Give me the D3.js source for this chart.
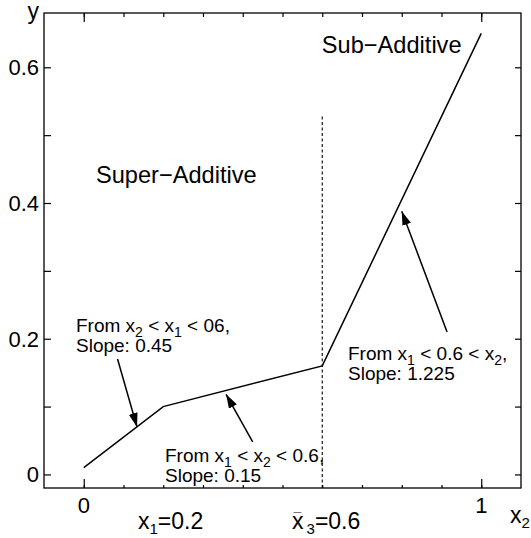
<!DOCTYPE html>
<html>
<head>
<meta charset="utf-8">
<script src="https://d3js.org/d3.v7.min.js"></script>
<style>
  body { margin: 0; background: #fff; }
  svg { display: block; font-family: "Liberation Sans", Arial, Helvetica, sans-serif; }
</style>
</head>
<body>
<svg width="531" height="538"></svg>
<script>
// piecewise curve
var curveX = [0, 0.2, 0.6, 1];
var curveY = [0.01, 0.1, 0.16, 0.65];

// dashed marker at x3bar
var dashX = 0.6;
var dashTop = 0.53;

// ticks
var xMinorTicks = [0, 0.1, 0.2, 0.3, 0.4, 0.5, 0.6, 0.7, 0.8, 0.9, 1];
var xMajorTicks = [0, 1];
var xTickLabels = ["0", "1"];
var yTicks = [0, 0.1, 0.2, 0.3, 0.4, 0.5, 0.6];
var yLabelTicks = [0, 0.2, 0.4, 0.6];
var yTickLabels = ["0", "0.2", "0.4", "0.6"];

// arrows: tail and head points in data units
var arrowFrom = [[0.085, 0.17], [0.425, 0.048], [0.914, 0.21]];
var arrowTo   = [[0.134, 0.07], [0.358, 0.118], [0.80, 0.388]];

// annotation anchors (data units) and their text pieces
var noteAt = [[-0.0195, 0.21], [0.2044, 0.0183], [0.6648, 0.1686]];
var noteLine1 = [
  [["From x", 0], ["2", 1], [" < x", 0], ["1", 1], [" < 06,", 0]],
  [["From x", 0], ["1", 1], [" < x", 0], ["2", 1], [" < 0.6,", 0]],
  [["From x", 0], ["1", 1], [" < 0.6 < x", 0], ["2", 1], [",", 0]]
];
var noteLine2 = ["Slope: 0.45", "Slope: 0.15", "Slope: 1.225"];

// region labels
var regionText = ["Super\u2212Additive", "Sub\u2212Additive"];
var regionAt = [[0.0308, 0.4295], [0.599, 0.621]];

// labels under the axis
var x1LabelAt = 0.1365;
var x3LabelAt = 0.524;

var svg = d3.select("svg");
var margin = {top: 13, right: 10, bottom: 50, left: 44};
var width = +svg.attr("width") - margin.left - margin.right;
var height = +svg.attr("height") - margin.top - margin.bottom;

var g = svg.append("g").attr("transform", "translate(" + margin.left + "," + margin.top + ")");

var x = d3.scaleLinear().domain([-0.1, 1.1]).range([0, width]);
var y = d3.scaleLinear().domain([-0.02, 0.68]).range([height, 0]);

// frame
g.append("rect")
    .attr("width", width)
    .attr("height", height)
    .attr("fill", "none")
    .attr("stroke", "#000")
    .attr("stroke-width", 1.3);

// inward ticks
function ticks(axis) {
  return function(sel) {
    sel.call(axis);
    sel.select(".domain").remove();
    sel.selectAll("text").remove();
    sel.selectAll("line").attr("stroke", "#000").attr("stroke-width", 1.2);
  };
}
g.append("g").attr("transform", "translate(0," + height + ")")
    .call(ticks(d3.axisBottom(x).tickValues(xMinorTicks).tickSize(-3)));
g.append("g").attr("transform", "translate(0," + height + ")")
    .call(ticks(d3.axisBottom(x).tickValues(xMajorTicks).tickSize(-9)));
g.append("g")
    .call(ticks(d3.axisTop(x).tickValues(xMinorTicks).tickSize(-4)));
g.append("g")
    .call(ticks(d3.axisTop(x).tickValues(xMajorTicks).tickSize(-9)));
g.append("g")
    .call(ticks(d3.axisLeft(y).tickValues(yTicks).tickSize(-7)));
g.append("g").attr("transform", "translate(" + width + ",0)")
    .call(ticks(d3.axisRight(y).tickValues(yTicks).tickSize(-6)));

// tick labels
g.selectAll(".xl").data(xMajorTicks).enter().append("text")
    .attr("x", function(d) { return x(d); })
    .attr("y", height + 25)
    .attr("text-anchor", "middle")
    .attr("font-size", 22)
    .text(function(d, i) { return xTickLabels[i]; });

g.selectAll(".yl").data(yLabelTicks).enter().append("text")
    .attr("x", -5)
    .attr("y", function(d) { return y(d) + 8; })
    .attr("text-anchor", "end")
    .attr("font-size", 22)
    .text(function(d, i) { return yTickLabels[i]; });

// axis names
g.append("text").attr("x", -5).attr("y", 6)
    .attr("text-anchor", "end").attr("font-size", 23).text("y");
var xl = g.append("text").attr("x", width - 11).attr("y", height + 35).attr("font-size", 23);
xl.append("tspan").text("x");
xl.append("tspan").attr("font-size", 15).attr("dy", 5).text("2");

// x1 and x3bar labels under the axis
var l1 = g.append("text").attr("x", x(x1LabelAt)).attr("y", height + 41).attr("font-size", 23);
l1.append("tspan").text("x");
l1.append("tspan").attr("font-size", 15).attr("dy", 5).text("1");
l1.append("tspan").attr("dy", -5).text("=0.2");

var l3 = g.append("text").attr("x", x(x3LabelAt)).attr("y", height + 41).attr("font-size", 23);
l3.append("tspan").text("x");
l3.append("tspan").attr("font-size", 15).attr("dy", 5).attr("dx", 3).text("3");
l3.append("tspan").attr("dy", -5).text("=0.6");
g.append("text").attr("x", x(x3LabelAt) + 1.5).attr("y", height + 35).attr("font-size", 14).text("\u00AF");

// dashed line
g.append("line")
    .attr("x1", x(dashX)).attr("x2", x(dashX))
    .attr("y1", y(-0.02)).attr("y2", y(dashTop))
    .attr("stroke", "#000").attr("stroke-width", 1.1)
    .attr("stroke-dasharray", "3,2.5");

// curve
var pts = curveX.map(function(d, i) { return [d, curveY[i]]; });
g.append("path")
    .datum(pts)
    .attr("fill", "none")
    .attr("stroke", "#000")
    .attr("stroke-width", 1.5)
    .attr("d", d3.line().x(function(d) { return x(d[0]); }).y(function(d) { return y(d[1]); }));

// arrows
svg.append("defs").append("marker")
    .attr("id", "head")
    .attr("viewBox", "0 0 14 9")
    .attr("refX", 14).attr("refY", 4.5)
    .attr("markerWidth", 14).attr("markerHeight", 9)
    .attr("markerUnits", "userSpaceOnUse")
    .attr("orient", "auto")
  .append("path").attr("d", "M0,0 L14,4.5 L0,9 Z").attr("fill", "#000");

g.selectAll(".arrow").data(arrowFrom).enter().append("line")
    .attr("x1", function(d) { return x(d[0]); })
    .attr("y1", function(d) { return y(d[1]); })
    .attr("x2", function(d, i) { return x(arrowTo[i][0]); })
    .attr("y2", function(d, i) { return y(arrowTo[i][1]); })
    .attr("stroke", "#000").attr("stroke-width", 1.5)
    .attr("marker-end", "url(#head)");

// annotations
noteAt.forEach(function(p, i) {
  var t = g.append("text").attr("x", x(p[0])).attr("y", y(p[1])).attr("font-size", 19);
  var shift = 0;
  noteLine1[i].forEach(function(part) {
    var dy = part[1] ? 5 : 0;
    var ts = t.append("tspan").attr("dy", dy - shift).text(part[0]);
    if (part[1]) ts.attr("font-size", 14);
    shift = dy;
  });
  g.append("text").attr("x", x(p[0])).attr("y", y(p[1]) + 20)
      .attr("font-size", 19).text(noteLine2[i]);
});

// region labels
g.selectAll(".region").data(regionText).enter().append("text")
    .attr("x", function(d, i) { return x(regionAt[i][0]); })
    .attr("y", function(d, i) { return y(regionAt[i][1]); })
    .attr("font-size", 23.6)
    .text(function(d) { return d; });
</script>
</body>
</html>
